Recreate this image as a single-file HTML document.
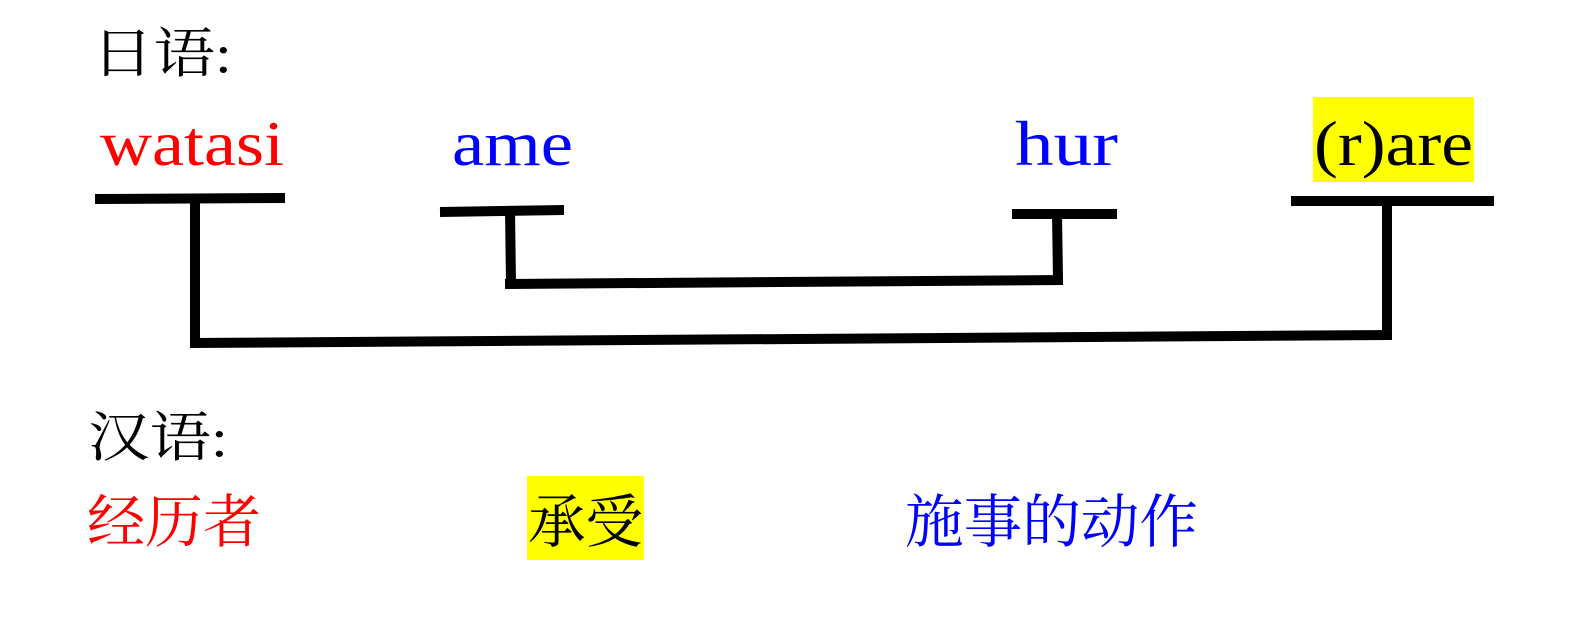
<!DOCTYPE html>
<html><head><meta charset="utf-8"><style>
html,body{margin:0;padding:0;background:#fff;}
svg{display:block;}
text{font-family:"Liberation Serif","Noto Serif CJK SC",serif;}
</style></head><body>
<svg width="1582" height="623" viewBox="0 0 1582 623" xmlns="http://www.w3.org/2000/svg">
<rect width="1582" height="623" fill="#fff"/>
<text x="92" y="72" font-size="54" fill="#000" textLength="140" lengthAdjust="spacingAndGlyphs">日语:</text>
<text x="100" y="165" font-size="64" fill="#f00" textLength="184" lengthAdjust="spacingAndGlyphs">watasi</text>
<text x="452" y="165" font-size="64" fill="#00f" textLength="121" lengthAdjust="spacingAndGlyphs">ame</text>
<text x="1015" y="165" font-size="64" fill="#00f" textLength="103" lengthAdjust="spacingAndGlyphs">hur</text>
<rect x="1313" y="97" width="161" height="85" fill="#ff0"/>
<text x="1314" y="165" font-size="64" fill="#000" textLength="159" lengthAdjust="spacingAndGlyphs">(r)are</text>
<g stroke="#000" stroke-width="10" fill="none">
<line x1="95" y1="199" x2="285" y2="198"/>
<line x1="195" y1="199" x2="195" y2="345"/>
<line x1="190" y1="343" x2="1392" y2="335"/>
<line x1="1387" y1="203" x2="1387" y2="330"/>
<line x1="1291" y1="201" x2="1494" y2="201"/>
<line x1="440" y1="212" x2="564" y2="210"/>
<line x1="510" y1="211" x2="511" y2="283"/>
<line x1="505" y1="284" x2="1063" y2="280"/>
<line x1="1057" y1="214" x2="1058" y2="280"/>
<line x1="1012" y1="214" x2="1117" y2="214"/>
</g>
<text x="88" y="456" font-size="54" fill="#000" textLength="140" lengthAdjust="spacingAndGlyphs">汉语:</text>
<text x="87" y="542" font-size="58" fill="#f00" textLength="174" lengthAdjust="spacingAndGlyphs">经历者</text>
<rect x="527" y="476" width="117" height="84" fill="#ff0"/>
<text x="528" y="542" font-size="58" fill="#000" textLength="115" lengthAdjust="spacingAndGlyphs">承受</text>
<text x="905" y="542" font-size="58" fill="#00f" textLength="293" lengthAdjust="spacingAndGlyphs">施事的动作</text>
</svg>
</body></html>
